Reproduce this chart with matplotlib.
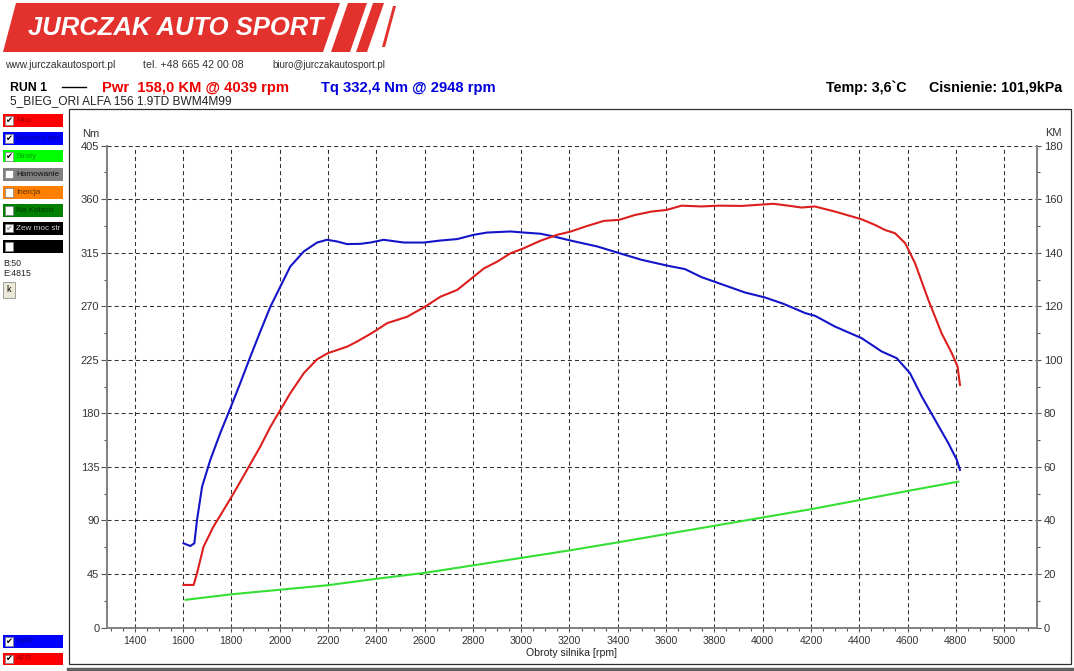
import matplotlib
matplotlib.use('Agg')
import matplotlib.pyplot as plt
from matplotlib.patches import Rectangle, Polygon
from matplotlib.lines import Line2D
from matplotlib.transforms import Bbox
from matplotlib import font_manager
from matplotlib.ticker import MultipleLocator

# ---------------- data ----------------
torque_rpm = [1602, 1630, 1647, 1658, 1679, 1713, 1754, 1796, 1837, 1879, 1920, 1962, 2003,
              2044, 2100, 2155, 2196, 2238, 2279, 2334, 2376, 2431, 2514, 2597, 2666, 2735,
              2804, 2859, 2956, 3011, 3080, 3135, 3204, 3315, 3406, 3498, 3609, 3678, 3747,
              3810, 3927, 4010, 4086, 4176, 4217, 4299, 4410, 4493, 4555, 4610, 4659, 4714,
              4769, 4804, 4817]
torque_nm = [70.8, 68.5, 70.8, 90.4, 118.4, 140.9, 163.3, 184.4, 205.4, 227.8, 248.8, 269.8,
             286.6, 303.4, 316.1, 323.6, 325.9, 324.5, 322.3, 322.5, 323.6, 325.9, 323.6,
             323.6, 325.3, 326.5, 330.1, 332.0, 332.9, 332.0, 331.0, 328.7, 325.3, 320.3,
             314.7, 309.1, 304.0, 301.3, 294.5, 290.0, 281.6, 277.4, 272.1, 264.3, 262.0,
             253.0, 243.2, 232.0, 226.4, 213.8, 194.1, 174.5, 154.9, 140.9, 132.5]

power_rpm = [1602, 1644, 1658, 1685, 1726, 1768, 1810, 1865, 1920, 1962, 2003, 2044, 2100,
             2155, 2200, 2279, 2320, 2376, 2403, 2445, 2528, 2603, 2666, 2735, 2804, 2845,
             2901, 2956, 3011, 3080, 3149, 3204, 3273, 3342, 3406, 3471, 3540, 3602, 3664,
             3747, 3816, 3913, 4044, 4106, 4161, 4216, 4299, 4410, 4465, 4507, 4548, 4590,
             4631, 4686, 4741, 4783, 4807, 4817]
power_km = [15.9, 15.9, 20.3, 30.2, 37.7, 43.9, 50.2, 58.9, 67.6, 75.0, 81.3, 87.5, 95.0,
            100.2, 102.5, 104.9, 106.8, 109.7, 111.2, 113.7, 116.1, 119.9, 123.6, 126.1,
            131.1, 134.1, 136.7, 139.8, 141.7, 144.5, 146.7, 147.9, 150.0, 151.9, 152.3,
            154.1, 155.4, 156.0, 157.6, 157.3, 157.6, 157.5, 158.3, 157.6, 156.9, 157.3,
            155.4, 152.5, 150.4, 148.5, 147.3, 143.6, 136.1, 122.4, 109.9, 102.5, 97.5, 90.6]

loss_rpm = [1611, 1800, 2000, 2200, 2400, 2600, 2800, 3000, 3200, 3400, 3600, 3800, 4000,
            4200, 4400, 4600, 4810]
loss_km = [10.35, 12.4, 14.1, 15.8, 18.2, 20.4, 23.2, 26.0, 28.8, 31.8, 34.9, 38.0, 41.1,
           44.2, 47.6, 51.0, 54.5]

x_ticks = list(range(1400, 5001, 200))
nm_ticks = list(range(0, 406, 45))
km_ticks = list(range(0, 181, 20))

legend_labels = ['Moc', 'Moment obr', 'Straty', 'Hamowanie', 'Inercja', 'Na Kolach',
                 'Zew moc str', '']
legend_fill = ['#ff0000', '#0000ff', '#00ff00', '#808080', '#ff8000', '#008000',
               '#000000', '#000000']
legend_text = ['#a00000', '#0000a0', '#00a000', '#101010', '#603000', '#003800',
               '#d0d0d0', '#ffffff']
legend_checked = [1, 1, 1, 0, 0, 0, 2, 0]

# ---------------- figure setup ----------------
plt.rcParams['font.family'] = ['Liberation Sans', 'DejaVu Sans']
plt.rcParams['lines.scale_dashes'] = False

W, H = 1074, 671
fig = plt.figure(figsize=(W / 100, H / 100), dpi=100)
fig.patch.set_facecolor('white')
renderer = fig.canvas.get_renderer()

names = {f.name for f in font_manager.fontManager.ttflist}
narrow = 'Liberation Sans Narrow' if 'Liberation Sans Narrow' in names else 'Liberation Sans'


def X(x):
    return x / W


def Y(y):
    return 1 - y / H


def ftext(x, y, s, width=None, **kw):
    t = fig.text(X(x), Y(y), s, **kw)
    if width:
        bb = t.get_window_extent(renderer=renderer)
        t.set_fontsize(t.get_fontsize() * width / bb.width)
    return t


def poly(pts, **kw):
    p = Polygon([(X(a), Y(b)) for a, b in pts], closed=True, transform=fig.transFigure, **kw)
    fig.add_artist(p)


def rect(x0, y0, x1, y1, **kw):
    r = Rectangle((X(x0), Y(y1)), (x1 - x0) / W, (y1 - y0) / H, transform=fig.transFigure, **kw)
    fig.add_artist(r)


def hline(x0, x1, y, **kw):
    fig.add_artist(Line2D([X(x0), X(x1)], [Y(y), Y(y)], transform=fig.transFigure, **kw))


def legend_box(top, fc, tc, lab, chk):
    rect(3, top, 63, top + 12.5, facecolor=fc, edgecolor='none')
    rect(4.5, top + 2, 12.5, top + 10.5, facecolor='white', edgecolor='#808080', lw=0.5)
    if chk:
        ftext(8.5, top + 6.5, '\u2714', color='black' if chk == 1 else '#909090',
              fontsize=6, ha='center', va='center', family=['DejaVu Sans'])
    if lab:
        t = ftext(16, top + 6.5, lab, color=tc, fontsize=5.9, va='center')
        t.set_clip_box(Bbox([[13, H - (top + 12.5)], [62, H - top]]))
        t.set_clip_on(True)


# ---------------- logo / header ----------------
logo_red = '#e3312d'
poly([(3, 52), (16, 3), (340, 3), (323, 52)], facecolor=logo_red, edgecolor='none')
poly([(331, 52), (348, 3), (367, 3), (350, 52)], facecolor=logo_red, edgecolor='none')
poly([(356, 52), (373, 3), (384, 3), (367, 52)], facecolor=logo_red, edgecolor='none')
poly([(382, 47), (393, 6), (396, 6), (385, 47)], facecolor=logo_red, edgecolor='none')
ftext(28, 28, 'JURCZAK AUTO SPORT', width=296, color='white', fontweight='bold',
      fontstyle='italic', family=[narrow, 'Liberation Sans'], fontsize=24, va='center')

ftext(5, 65, 'www.jurczakautosport.pl', width=112, color='#333333',
      family=[narrow, 'Liberation Sans'], fontsize=8, va='center')
ftext(143, 65, 'tel. +48 665 42 00 08', width=101, color='#333333',
      family=[narrow, 'Liberation Sans'], fontsize=8, va='center')
ftext(272, 65, 'biuro@jurczakautosport.pl', width=114, color='#333333',
      family=[narrow, 'Liberation Sans'], fontsize=8, va='center')

ftext(10, 88, 'RUN 1', width=37, fontweight='bold', color='black', fontsize=9, va='center')
hline(62, 86, 87, color='black', lw=1.0)
ftext(102, 88, 'Pwr  158,0 KM @ 4039 rpm', width=188, fontweight='bold', color='#ee0000',
      fontsize=10.5, va='center')
ftext(321, 88, 'Tq 332,4 Nm @ 2948 rpm', width=176, fontweight='bold', color='#0000dd',
      fontsize=10.5, va='center')
ftext(826, 88, 'Temp: 3,6`C', width=81, fontweight='bold', color='black', fontsize=9,
      va='center')
ftext(929, 88, 'Cisnienie: 101,9kPa', width=134, fontweight='bold', color='black',
      fontsize=9, va='center')
ftext(10, 101, '5_BIEG_ORI ALFA 156 1.9TD BWM4M99', width=220, color='#222222',
      fontsize=8, va='center')

# ---------------- frame ----------------
rect(68.5, 108.5, 1071, 664, facecolor='none', edgecolor='#303030', lw=0.9)
hline(68, 1074, 669, color='#606060', lw=2.5)

# ---------------- left panel ----------------
for i, (lab, fc, tc, chk) in enumerate(zip(legend_labels, legend_fill, legend_text,
                                           legend_checked)):
    legend_box(114 + 18 * i, fc, tc, lab, chk)

ftext(3, 263, 'B:50', color='#222222', fontsize=6.3, va='center')
ftext(3, 274, 'E:4815', color='#222222', fontsize=6.3, va='center')
rect(3, 282, 15, 298, facecolor='#ece9d8', edgecolor='#909090', lw=0.6)
ftext(9, 290, 'k', color='black', fontsize=6.5, ha='center', va='center')

legend_box(635, '#0000ff', '#0000a0', 'MAP', 1)
legend_box(652.5, '#ff0000', '#a00000', 'AFR', 1)

# ---------------- main chart ----------------
L, R, T, B = 106.7, 1037.5, 145.7, 627.5
ax = fig.add_axes([X(L), Y(B), (R - L) / W, (B - T) / H])
ax.set_facecolor('none')
ax2 = ax.twinx()

ax.set_xlim(1284, 5138)
ax.set_ylim(0, 405)
ax2.set_ylim(0, 180)

ax.set_xticks(x_ticks)
ax.xaxis.set_minor_locator(MultipleLocator(50))
ax.set_yticks(nm_ticks)
ax.yaxis.set_minor_locator(MultipleLocator(22.5))
ax2.set_yticks(km_ticks)
ax2.yaxis.set_minor_locator(MultipleLocator(10))

grid_kw = dict(color='#303030', lw=0.75, linestyle=(0, (2.9, 2.2)))
ax.grid(True, which='major', axis='both', **grid_kw)
ax.set_axisbelow(True)

axis_gray = '#808080'
for s in ['top', 'right']:
    ax.spines[s].set_visible(False)
for s in ['top', 'left', 'bottom']:
    ax2.spines[s].set_visible(False)
for sp in [ax.spines['left'], ax.spines['bottom'], ax2.spines['right']]:
    sp.set_color(axis_gray)
    sp.set_linewidth(1.4)

ax.tick_params(axis='y', which='major', direction='out', length=4.3, width=0.8,
               color='#555555', labelsize=8, labelcolor='#333333', pad=1)
ax.tick_params(axis='y', which='minor', direction='out', length=2.2, width=0.8,
               color='#555555')
ax.tick_params(axis='x', which='major', direction='out', length=3.2, width=0.8,
               color='#555555', labelsize=7.6, labelcolor='#333333', pad=3)
ax.tick_params(axis='x', which='minor', direction='out', length=2.0, width=0.8,
               color='#555555')
ax2.tick_params(axis='y', which='major', direction='out', length=3.0, width=0.8,
                color='#555555', labelsize=8, labelcolor='#333333', pad=1.5)
ax2.tick_params(axis='y', which='minor', direction='out', length=2.0, width=0.8,
                color='#555555')

ax.plot(torque_rpm, torque_nm, color='#1414c8', lw=1.5, zorder=3, solid_joinstyle='round')
ax2.plot(power_rpm, power_km, color='#dc1e1e', lw=1.5, zorder=3, solid_joinstyle='round')
ax2.plot(loss_rpm, loss_km, color='#33e033', lw=1.5, zorder=3, solid_joinstyle='round')

ftext(91, 134, 'Nm', color='#333333', fontsize=8, ha='center', va='center')
ftext(1053, 133, 'KM', color='#333333', fontsize=8, ha='center', va='center')
ftext(571, 653, 'Obroty silnika [rpm]', color='#222222', fontsize=7.6, ha='center',
      va='center')

fig.savefig('out.png', dpi=100, facecolor='white')
